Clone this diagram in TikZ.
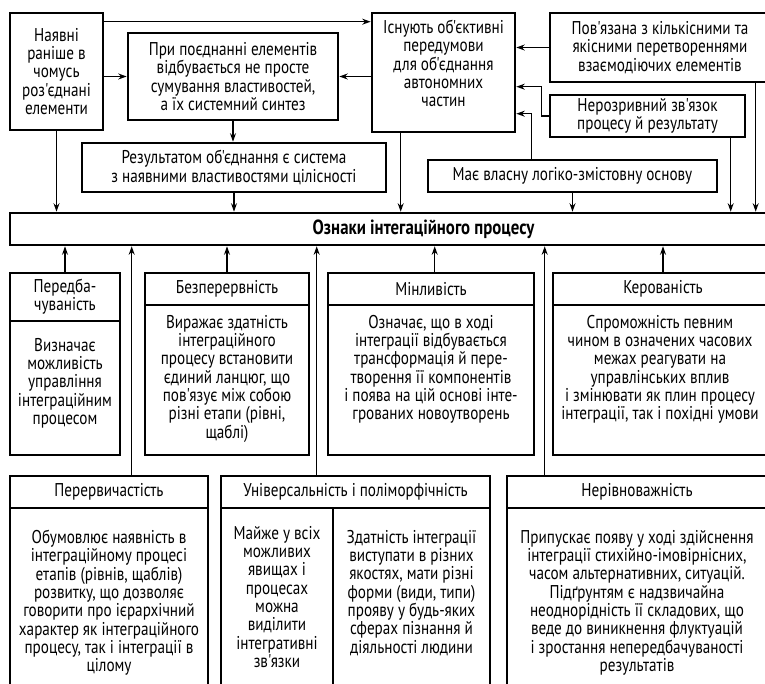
\documentclass[tikz,border=0pt]{standalone}
\usepackage{fontspec}
\newfontfamily\uafont[FakeStretch=0.82]{PT Sans}
\usetikzlibrary{arrows.meta,calc}
\begin{document}
\begin{tikzpicture}[x=1pt,y=-1pt,
  frame/.style={draw, line width=2.6pt, rectangle, inner sep=0pt, align=center,
    font=\uafont\fontsize{18.5}{18.3}\selectfont},
  txt/.style={inner sep=0pt, align=center, font=\uafont\fontsize{18.5}{18.3}\selectfont},
  wire/.style={line width=1.3pt},
  arr/.style={wire, -{Stealth[length=8.5pt,width=6pt]}},
]
\useasboundingbox (0,0) rectangle (765,684);
\clip (0,0) rectangle (765,684);

% ---- upper group ----
\node[frame, minimum width=93, minimum height=117] (A) at (56.5,71.5)
  {Наявні\\раніше в\\чомусь\\роз'єднані\\елементи};
\node[frame, minimum width=210, minimum height=87] (B) at (233,76.5)
  {При поєднанні елементів\\відбувається не просте\\сумування властивостей,\\а їх системний синтез};
\node[frame, minimum width=143, minimum height=119] (C) at (443.5,72.5) {};
\node[txt, anchor=north] (Ct) at (443.5,20)
  {Існують об'єктивні\\передумови\\для об'єднання\\автономних\\частин};
\node[frame, minimum width=220, minimum height=69] (D) at (660,47.5)
  {Пов'язана з кількісними та\\якісними перетвореннями\\взаємодіючих елементів};
\node[frame, minimum width=195, minimum height=42] (E) at (647.5,116)
  {Нерозривний зв'язок\\процесу й результату};
\node[frame, minimum width=289, minimum height=32] (F) at (572.5,176)
  {Має власну логіко-змістовну основу};
\node[frame, minimum width=304, minimum height=49] (G) at (234,167.5)
  {Результатом об'єднання є система\\з наявними властивостями цілісності};

% ---- main bar ----
\node[frame, minimum width=827, minimum height=32] (M) at (423.5,229)
  {\fontsize{20.5}{20}\selectfont\bfseries Ознаки інтегаційного процесу};

% ---- second row ----
\node[frame, minimum width=110, minimum height=48] (P1h) at (65,297) {Передба-\\чуваність};
\node[frame, minimum width=110, minimum height=134] (P1b) at (65,388) {};
\node[txt, anchor=north] (P1t) at (65,338)
  {Визначає\\можливість\\управління\\інтеграційним\\процесом};

\node[frame, minimum width=164, minimum height=32] (P2h) at (227,289) {Безперервність};
\node[frame, minimum width=164, minimum height=150] (P2b) at (227,380) {};
\node[txt, anchor=north] (P2t) at (227,315)
  {Виражає здатність\\інтеграційного\\процесу встановити\\єдиний ланцюг, що\\пов'язує між собою\\різні етапи (рівні,\\щаблі)};

\node[frame, minimum width=206, minimum height=32] (P3h) at (431,289) {Мінливість};
\node[frame, minimum width=206, minimum height=150] (P3b) at (431,380) {};
\node[txt, anchor=north] (P3t) at (431,315)
  {Означає, що в ході\\інтеграції відбувається\\трансформація й пере-\\творення її компонентів\\і поява на цій основі інте-\\грованих новоутворень};

\node[frame, minimum width=220, minimum height=32] (P4h) at (663,289) {Керованість};
\node[frame, minimum width=220, minimum height=150] (P4b) at (663,380) {};
\node[txt, anchor=north] (P4t) at (660,315)
  {Спроможність певним\\чином в означених часових\\межах реагувати на\\управлінських вплив\\і змінювати як плин процесу\\інтеграції, так і похідні умови};

% ---- third row ----
\node[frame, minimum width=198, minimum height=32] (Q1h) at (109,492) {Перервичастість};
\node[frame, minimum width=198, minimum height=192] (Q1b) at (109,604) {};
\node[txt, anchor=north] (Q1t) at (109,530)
  {Обумовлює наявність в\\інтеграційному процесі\\етапів (рівнів, щаблів)\\розвитку, що дозволяє\\говорити про ієрархічний\\характер як інтеграційного\\процесу, так і інтеграції в\\цілому};

\node[frame, minimum width=269, minimum height=32] (Q2h) at (355.5,492) {Універсальність і поліморфічність};
\node[frame, minimum width=112, minimum height=192] (Q2l) at (277,604) {};
\node[frame, minimum width=157, minimum height=192] (Q2r) at (411.5,604) {};
\node[txt, anchor=north] (Q2lt) at (277,526)
  {Майже у всіх\\можливих\\явищах і\\процесах\\можна\\виділити\\інтегративні\\зв'язки};
\node[txt, anchor=north] (Q2rt) at (411.5,530)
  {Здатність інтеграції\\виступати в різних\\якостях, мати різні\\форми (види, типи)\\прояву у будь-яких\\сферах пізнання й\\діяльності людини};

\node[frame, minimum width=260, minimum height=32] (Q3h) at (637,492) {Нерівноважність};
\node[frame, minimum width=260, minimum height=192] (Q3b) at (637,604) {};
\node[txt, anchor=north] (Q3t) at (637,530)
  {Припускає появу у ході здійснення\\інтеграції стихійно-імовірнісних,\\часом альтернативних, ситуацій.\\Підґрунтям є надзвичайна\\неоднорідність її складових, що\\веде до виникнення флуктуацій\\і зростання непередбачуваності\\результатів};

% ---- connectors of the upper group ----
\coordinate (a1) at ($(A.north east)+(0,10)$);
\draw[arr] (a1) -- (a1 -| C.west);
\draw[arr] (A.east |- B.west) -- (B.west);
\draw[arr] (C.west |- B.east) -- (B.east);
\draw[arr] (B.south) -- (B.south |- G.north);
\draw[arr] (D.west) -- (D.west -| C.east);
\coordinate (c2) at ($(C.north east)+(0,75)$);
\draw[arr] (E.west) -- ++(-7,0) |- (c2);
\coordinate (c3) at ($(C.north east)+(0,102)$);
\coordinate (f1) at ($(F.north west)+(105,0)$);
\draw[arr] (f1) |- (c3);

% ---- into the main bar from above ----
\draw[arr] (A.south) -- (A.south |- M.north);
\draw[arr] (G.south) -- (G.south |- M.north);
\coordinate (c4) at ($(C.south west)+(30,0)$);
\draw[arr] (c4) -- (c4 |- M.north);
\draw[arr] (F.south) -- (F.south |- M.north);
\coordinate (e4) at ($(E.south west)+(182,0)$);
\draw[arr] (e4) -- (e4 |- M.north);
\coordinate (d4) at ($(D.south west)+(207,0)$);
\draw[arr] (d4) -- (d4 |- M.north);

% ---- into the main bar from below ----
\draw[arr] (P1h.north) -- (P1h.north |- M.south);
\draw[arr] (P2h.north) -- (P2h.north |- M.south);
\coordinate (p3) at ($(P3h.north west)+(108,0)$);
\draw[arr] (p3) -- (p3 |- M.south);
\draw[arr] (P4h.north) -- (P4h.north |- M.south);
\coordinate (q1) at ($(Q1h.north west)+(123,0)$);
\draw[arr] (q1) -- (q1 |- M.south);
\coordinate (q2) at ($(Q2h.north west)+(97,0)$);
\draw[arr] (q2) -- (q2 |- M.south);
\coordinate (q3) at ($(Q3h.north west)+(39,0)$);
\draw[arr] (q3) -- (q3 |- M.south);
\end{tikzpicture}
\end{document}
